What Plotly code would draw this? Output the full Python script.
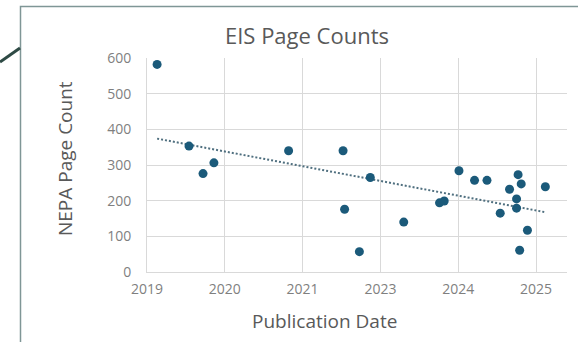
import numpy as np
import plotly.graph_objects as go

# x positions in units of the chart's date-axis tick interval (0 = first tick "2019")
tick_labels = ["2019", "2020", "2021", "2023", "2024", "2025"]
tick_pos = [0, 1, 2, 3, 4, 5]
pub_date_pos = [0.13, 0.54, 0.72, 0.86, 1.82, 2.52, 2.54, 2.73, 2.87, 3.30, 3.76, 3.82,
                4.01, 4.21, 4.37, 4.54, 4.66, 4.75, 4.75, 4.77, 4.79, 4.81, 4.89, 5.12]
page_counts = [582, 353, 276, 306, 340, 340, 176, 57, 265, 140, 194, 199,
               284, 257, 257, 165, 232, 205, 179, 273, 61, 247, 117, 239]

W, H = 578, 342
L, R, T, B = 147, 11, 58, 70
pw, ph = W - L - R, H - T - B

def px(x):
    return (x - L) / pw

def py(y):
    return (H - B - y) / ph

xs = np.array(pub_date_pos)
ys = np.array(page_counts)
slope, inter = np.polyfit(xs, ys, 1)
tx = np.array([xs.min(), xs.max()])
ty = slope * tx + inter

fig = go.Figure()
fig.add_trace(go.Scatter(x=tx, y=ty, mode="lines",
                         line=dict(color="#4f6f7f", width=2, dash="2px,2px"),
                         hoverinfo="skip", showlegend=False))
fig.add_trace(go.Scatter(x=xs, y=ys, mode="markers",
                         marker=dict(color="#1b5a7a", size=9),
                         showlegend=False, cliponaxis=False))

font_fam = "'Open Sans', sans-serif"
fig.update_layout(
    width=W, height=H,
    margin=dict(l=L, r=R, t=T, b=B),
    paper_bgcolor="white", plot_bgcolor="white",
    font=dict(family=font_fam, color="#7f7f7f"),
    title=dict(text="EIS Page Counts", xref="container", x=307 / W, xanchor="center",
               yref="container", y=1 - 36 / H, yanchor="middle",
               font=dict(size=22, color="#595959", family=font_fam)),
    xaxis=dict(range=[0, (W - R - L) / 77.8], tickvals=tick_pos, ticktext=tick_labels,
               showgrid=True, gridcolor="#d9d9d9", gridwidth=1, zeroline=False,
               showline=True, linecolor="#d9d9d9", ticks="",
               tickfont=dict(size=14, color="#7f7f7f")),
    yaxis=dict(range=[0, 600], tickvals=[0, 100, 200, 300, 400, 500, 600],
               showgrid=True, gridcolor="#d9d9d9", gridwidth=1, zeroline=False,
               showline=True, linecolor="#d9d9d9", ticks="",
               tickfont=dict(size=14, color="#7f7f7f")),
)
fig.update_xaxes(ticklabelstandoff=4)
fig.update_yaxes(ticklabelstandoff=12)

# axis titles placed as in the reference (offset from plot-area centre)
fig.add_annotation(text="Publication Date", xref="paper", yref="paper",
                   x=px(324.5), y=py(321), xanchor="center", yanchor="middle",
                   showarrow=False, font=dict(size=19, color="#595959", family=font_fam))
fig.add_annotation(text="NEPA Page Count", xref="paper", yref="paper",
                   x=px(65), y=py(159), xanchor="center", yanchor="middle", textangle=-90,
                   showarrow=False, font=dict(size=19, color="#595959", family=font_fam))

# surrounding frame and decorative connector stroke
fig.add_shape(type="rect", xref="paper", yref="paper",
              x0=px(20.5), x1=px(590), y0=py(350), y1=py(6.5),
              line=dict(color="#7f9696", width=1.5), fillcolor="rgba(0,0,0,0)", layer="below")
fig.add_shape(type="line", xref="paper", yref="paper",
              x0=px(0), y0=py(62), x1=px(20), y1=py(48),
              line=dict(color="#2e4a45", width=3))

fig.write_html("out.html")
